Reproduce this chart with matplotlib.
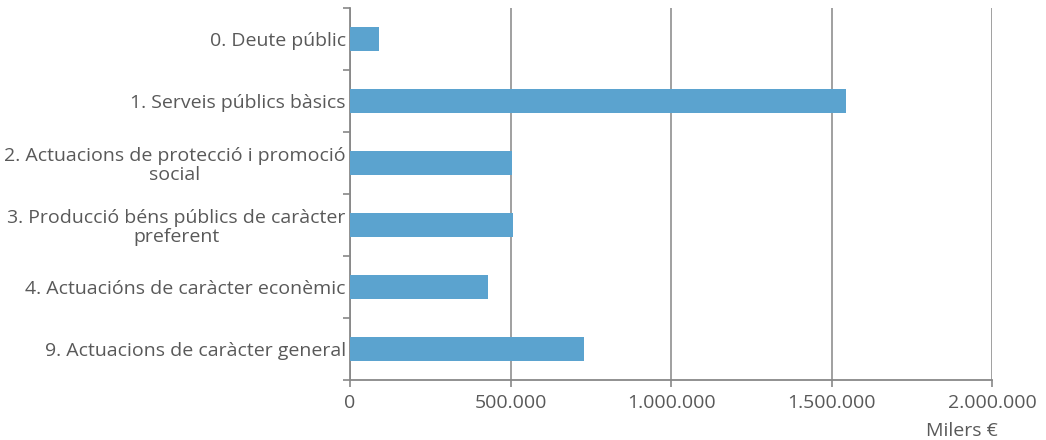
import matplotlib
matplotlib.use("Agg")
import matplotlib.pyplot as plt
from matplotlib.ticker import FuncFormatter, FixedLocator

categories = [
    "0. Deute públic",
    "1. Serveis públics bàsics",
    "2. Actuacions de protecció i promoció\nsocial",
    "3. Producció béns públics de caràcter\npreferent",
    "4. Actuacións de caràcter econèmic",
    "9. Actuacions de caràcter general",
]
values = [90000, 1545000, 506000, 509000, 429000, 730000]
x_ticks = [0, 500000, 1000000, 1500000, 2000000]

text_color = "#595959"
plt.rcParams["font.family"] = ["Open Sans", "DejaVu Sans"]

fig = plt.figure(figsize=(10.46, 4.4), dpi=100)
ax = fig.add_axes([0.3346, 0.1364, 0.6138, 0.8455])

pos = list(range(len(categories)))
ax.barh(pos, values, height=0.4, color="#5BA3CF", zorder=3)
ax.set_ylim(len(categories) - 0.5, -0.5)
ax.set_xlim(0, 2000000)

ax.set_yticks(pos)
ax.set_yticklabels(categories, fontsize=14, color=text_color, multialignment="center",
                   linespacing=1.1)
ax.yaxis.set_minor_locator(FixedLocator([p - 0.5 for p in range(len(categories) + 1)]))
ax.tick_params(axis="y", which="major", length=0, pad=3)
ax.tick_params(axis="y", which="minor", length=5, width=1.2, color="#888888")

ax.set_xticks(x_ticks)
ax.xaxis.set_major_formatter(FuncFormatter(lambda v, p: f"{int(v):,}".replace(",", ".")))
ax.tick_params(axis="x", length=5, width=1.2, color="#888888", labelsize=14,
               labelcolor=text_color, pad=5)

ax.grid(axis="x", color="#999999", linewidth=1.3, zorder=0)
for s in ["top", "right"]:
    ax.spines[s].set_visible(False)
for s in ["left", "bottom"]:
    ax.spines[s].set_color("#888888")
    ax.spines[s].set_linewidth(1.3)

fig.text(0.954, 0.0, "Milers €", fontsize=14, color=text_color, ha="right", va="bottom")

fig.savefig("out.png", dpi=100)
